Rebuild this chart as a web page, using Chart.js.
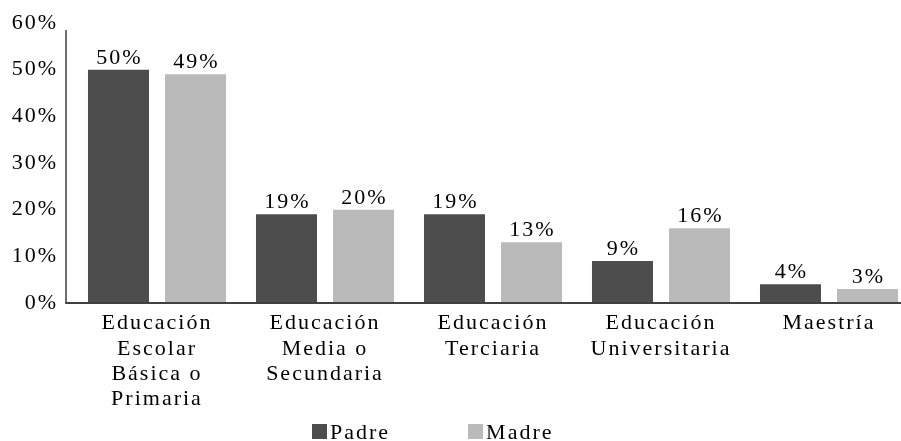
<!DOCTYPE html>
<html>
<head>
<meta charset="utf-8">
<script src="https://cdn.jsdelivr.net/npm/chart.js@4/dist/chart.umd.min.js"></script>
<style>
  html, body { margin: 0; padding: 0; background: #fff; overflow: hidden; }
  #frame { position: relative; width: 901px; height: 441px; overflow: hidden; }
  #box { position: absolute; left: 0; top: 0; width: 920px; height: 441px; }
  #legend {
    position: absolute; left: 312px; top: 419px;
    display: flex; gap: 78px;
    font: 22px "Liberation Serif", serif; letter-spacing: 2px; color: #000;
  }
  #legend .item { white-space: nowrap; }
  #legend .key { display: inline-block; width: 15px; height: 15px; margin-right: 3px; }
</style>
</head>
<body>
<div id="frame">
  <div id="box"><canvas id="myChart"></canvas></div>
  <div id="legend"></div>
</div>
<script>
const categories = [
  ['Educación', 'Escolar', 'Básica o', 'Primaria'],
  ['Educación', 'Media o', 'Secundaria'],
  ['Educación', 'Terciaria'],
  ['Educación', 'Universitaria'],
  'Maestría',
];
const padre = [50, 19, 19, 9, 4];
const madre = [49, 20, 13, 16, 3];
const yMin = 0;
const yMax = 60;
const yStep = 10;

const serif = '"Liberation Serif", serif';

// percentage above each bar
const barLabels = {
  id: 'barLabels',
  afterDatasetsDraw(chart) {
    const ctx = chart.ctx;
    ctx.save();
    ctx.font = '22px ' + serif;
    ctx.fillStyle = '#000';
    ctx.textAlign = 'center';
    ctx.textBaseline = 'alphabetic';
    chart.data.datasets.forEach((ds, i) => {
      chart.getDatasetMeta(i).data.forEach((bar, j) => {
        ctx.fillText(ds.data[j] + '%', bar.x + 1, bar.y - 6);
      });
    });
    ctx.restore();
  }
};

// axis lines: the vertical one sits a little left of the first bar group
const axisLines = {
  id: 'axisLines',
  beforeDraw(chart) {
    chart.ctx.letterSpacing = '2px';
  },
  afterDatasetsDraw(chart) {
    const ctx = chart.ctx;
    const area = chart.chartArea;
    const y0 = chart.scales.y.getPixelForValue(0);
    const xAxis = area.left - 7;
    ctx.save();
    ctx.strokeStyle = '#404040';
    ctx.lineWidth = 1.5;
    ctx.beginPath();
    ctx.moveTo(xAxis, area.top + 7);
    ctx.lineTo(xAxis, y0);
    ctx.stroke();
    ctx.lineWidth = 2;
    ctx.beginPath();
    ctx.moveTo(xAxis - 0.75, y0);
    ctx.lineTo(area.right, y0);
    ctx.stroke();
    ctx.restore();
  }
};

const data = {
  labels: categories,
  datasets: [{
    label: 'Padre',
    data: padre,
    backgroundColor: '#4d4d4d',
  }, {
    label: 'Madre',
    data: madre,
    backgroundColor: '#bababa',
  }]
};

const config = {
  type: 'bar',
  data: data,
  options: {
    responsive: true,
    maintainAspectRatio: false,
    animation: false,
    datasets: {
      bar: { categoryPercentage: 0.917, barPercentage: 0.792 }
    },
    layout: { padding: { top: 23, right: 7, bottom: 0, left: 0 } },
    plugins: {
      legend: { display: false },
      tooltip: { enabled: false },
    },
    scales: {
      x: {
        grid: { display: false, drawTicks: false },
        border: { display: false },
        ticks: {
          color: '#000',
          padding: 8,
          maxRotation: 0,
          autoSkip: false,
          font: { family: serif, size: 22, lineHeight: 1.15 },
        },
        afterFit(scale) { scale.height = 138; },
      },
      y: {
        min: yMin,
        max: yMax,
        grid: { display: false, drawTicks: false },
        border: { display: false },
        ticks: {
          stepSize: yStep,
          color: '#000',
          padding: 15,
          font: { family: serif, size: 22 },
          callback: v => v + '%',
        },
        afterFit(scale) {
          scale.width = 73;
          scale.paddingTop = 0;
          scale.paddingBottom = 0;
        },
      }
    }
  },
  plugins: [axisLines, barLabels]
};

const myChart = new Chart(document.getElementById('myChart'), config);

// legend as html, built from the datasets
const legendEl = document.getElementById('legend');
myChart.data.datasets.forEach(ds => {
  const item = document.createElement('span');
  item.className = 'item';
  const key = document.createElement('span');
  key.className = 'key';
  key.style.background = ds.backgroundColor;
  item.appendChild(key);
  item.appendChild(document.createTextNode(ds.label));
  legendEl.appendChild(item);
});
</script>
</body>
</html>
